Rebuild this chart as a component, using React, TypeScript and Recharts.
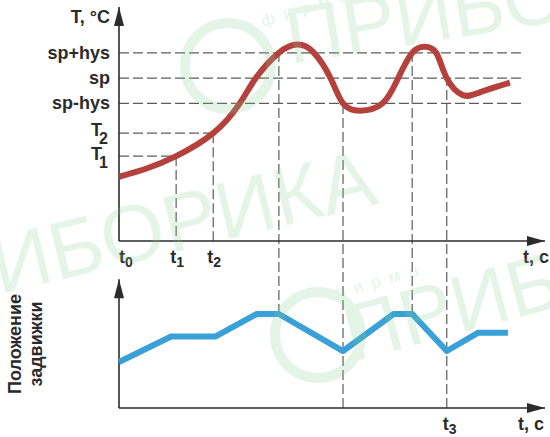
import React from "react";
import { LineChart, Line, XAxis, YAxis, ReferenceLine, ReferenceDot } from "recharts";

const FONT = '"Liberation Sans", Arial, Helvetica, sans-serif';
const INK = "#2b2b2b";
const DASH = "#5c5c5c";
const RED = "#b5413d";
const BLUE = "#39a1d7";
const MARK = "#86cf97";

// temperature levels (sketch units)
const SP = 71;
const HYS = 11;
const T1 = 37;
const T2 = 47;

// axis domains: both panels share one plot area
const T_MIN = -72.8;
const T_MAX = 102;
const P_MIN = 0;
const P_MAX = 426.6;
const P_TOP = 137;

// time marks
const T_END = 85;
const LEVEL_END = 80.6;
const t1 = 11.4;
const t2 = 18.8;
const tHigh1 = 31.9;
const tLow1 = 44.7;
const tHigh2 = 58.5;
const t3 = 65.4;

// temperature curve
const tempTime = [0, 5.5, 11.4, 18.8, 24.1, 27.3, 31.9, 35.7, 38.9, 42.2, 44.7, 48.1, 52.6, 55.7, 58.5, 60.9, 63.3, 65.4, 68.6, 72.0, 78.0];
const tempValue = [28, 31.6, 37, 47, 60, 71, 82, 85.6, 82, 71, 60, 56.8, 60, 71, 82, 84.7, 82, 71, 63.6, 64.8, 69];

// valve position
const powerTime = [0, 10.4, 19.2, 27.5, 31.9, 44.7, 54.8, 58.5, 65.4, 71.6, 77.6];
const powerValue = [49, 76, 76, 100, 100, 60.6, 100, 100, 60.6, 80, 80];

// tick labels
const tempTicks = [T1, T2, SP - HYS, SP, SP + HYS, T_MAX];
const tempLabels = ["T_1", "T_2", "sp-hys", "sp", "sp+hys", "T, °C"];
const tempDy = [4, 3, 6, 6, 6, 16];
const powerTicks = [0, 100, P_TOP];
const powerLabels = ["0 %", "100 %", "P, %"];
const powerDy = [9, 6, 14];
const topTimeTicks = [0, t1, t2, LEVEL_END];
const topTimeLabels = ["t_0", "t_1", "t_2", "t, c"];
const bottomTimeTicks = [t3, 79.6];
const bottomTimeLabels = ["t_3", "t, c"];

const tempData = tempTime.map((t, i) => ({ t, v: tempValue[i] }));
const powerData = powerTime.map((t, i) => ({ t, v: powerValue[i] }));

// same screen height expressed on the P axis
const tempToP = (v: number) => P_MIN + ((v - T_MIN) / (T_MAX - T_MIN)) * (P_MAX - P_MIN);

function Label({ x, y, text, anchor = "end" }: { x: number; y: number; text: string; anchor?: string }) {
  const [main, sub] = text.split("_");
  const cap = main === "T";
  return (
    <text x={x} y={y} textAnchor={anchor} fontFamily={FONT} fontWeight={700} fontSize={18} fill={INK}>
      {main}
      {sub !== undefined && (
        <tspan dx={cap ? -3 : 0} dy={cap ? 8 : 4} fontSize={cap ? 16 : 14}>
          {sub}
        </tspan>
      )}
    </text>
  );
}

const yTick = (ticks: number[], labels: string[], dy: number[]) => (props: any) => {
  const i = ticks.indexOf(props.payload.value);
  if (i < 0) return <g />;
  const cap = labels[i].startsWith("T_");
  return <Label x={props.x - (cap ? 2 : 0)} y={props.y + dy[i]} text={labels[i]} />;
};

const bottomTick = (props: any) => {
  const i = bottomTimeTicks.indexOf(props.payload.value);
  if (i < 0) return <g />;
  const text = bottomTimeLabels[i];
  const sub = text.includes("_");
  return <Label x={props.x + (sub ? 3 : 0)} y={props.y + 22} text={text} anchor={sub ? "middle" : "start"} />;
};

const arrowUp = (p: any) => (
  <path d={`M${p.cx},${p.cy} L${p.cx - 5},${p.cy + 19} L${p.cx + 5},${p.cy + 19} Z`} fill={INK} />
);
const arrowRight = (p: any) => (
  <path d={`M${p.cx},${p.cy} L${p.cx - 18},${p.cy - 5} L${p.cx - 18},${p.cy + 5} Z`} fill={INK} />
);

const dashed = { stroke: DASH, strokeWidth: 1.2, strokeDasharray: "10 4", ifOverflow: "visible" as const };
const axisStyle = { stroke: INK, strokeWidth: 1.6, ifOverflow: "visible" as const };

function Watermark() {
  return (
    <svg width={550} height={437} style={{ position: "absolute", left: 0, top: 0, pointerEvents: "none" }}>
      <g opacity={0.22} fill={MARK} fontFamily={FONT}>
        <text x={380} y={203} textAnchor="end" fontSize={82} transform="rotate(-13.5 380 203)">ПРИБОРИКА</text>
        <text x={290} y={64} fontSize={80} transform="rotate(-9 290 64)">ПРИБОРИКА</text>
        <text x={352} y={362} fontSize={80} transform="rotate(-15 352 362)">ПРИБОРИКА</text>
        <text x={263} y={27} fontSize={17} letterSpacing={9} transform="rotate(-17 263 27)">фирма</text>
        <text x={333} y={300} fontSize={17} letterSpacing={9} transform="rotate(-16 333 300)">фирма</text>
        <circle cx={228} cy={66} r={43} fill="none" stroke={MARK} strokeWidth={10} />
        <circle cx={318} cy={335} r={43} fill="none" stroke={MARK} strokeWidth={10} />
      </g>
    </svg>
  );
}

export default function App() {
  return (
    <div style={{ position: "absolute", left: 0, top: 0, width: 550, height: 437, background: "#fff" }}>
      <LineChart width={550} height={437} margin={{ top: 7, right: 5, bottom: 0, left: 0 }}>
        <XAxis
          type="number"
          dataKey="t"
          domain={[0, T_END]}
          ticks={bottomTimeTicks}
          interval={0}
          height={29}
          axisLine={{ stroke: INK, strokeWidth: 1.6 }}
          tickLine={false}
          tickSize={0}
          tickMargin={0}
          tick={bottomTick}
        />
        <YAxis
          yAxisId="P"
          type="number"
          domain={[P_MIN, P_MAX]}
          ticks={powerTicks}
          interval={0}
          width={0}
          axisLine={false}
          tickLine={false}
          tickSize={0}
          tickMargin={9}
          tick={yTick(powerTicks, powerLabels, powerDy)}
        />
        <YAxis
          yAxisId="T"
          type="number"
          domain={[T_MIN, T_MAX]}
          ticks={tempTicks}
          interval={0}
          width={119}
          axisLine={false}
          tickLine={false}
          tickSize={0}
          tickMargin={9}
          tick={yTick(tempTicks, tempLabels, tempDy)}
        />

        {/* level lines */}
        {[SP + HYS, SP, SP - HYS].map((lv) => (
          <ReferenceLine key={`lv${lv}`} yAxisId="T" segment={[{ x: 0, y: lv }, { x: LEVEL_END, y: lv }]} {...dashed} />
        ))}
        <ReferenceLine yAxisId="T" segment={[{ x: 0, y: T2 }, { x: t2, y: T2 }]} {...dashed} />
        <ReferenceLine yAxisId="T" segment={[{ x: 0, y: T1 }, { x: t1, y: T1 }]} {...dashed} />
        <ReferenceLine yAxisId="T" segment={[{ x: t1, y: T1 }, { x: t1, y: 0 }]} {...dashed} />
        <ReferenceLine yAxisId="T" segment={[{ x: t2, y: T2 }, { x: t2, y: 0 }]} {...dashed} />

        {/* switching instants down into the valve panel */}
        <ReferenceLine yAxisId="P" segment={[{ x: tHigh1, y: 100 }, { x: tHigh1, y: tempToP(SP + HYS) }]} {...dashed} />
        <ReferenceLine yAxisId="P" segment={[{ x: tLow1, y: 0 }, { x: tLow1, y: tempToP(SP - HYS) }]} {...dashed} />
        <ReferenceLine yAxisId="P" segment={[{ x: tHigh2, y: 100 }, { x: tHigh2, y: tempToP(SP + HYS) }]} {...dashed} />
        <ReferenceLine yAxisId="P" segment={[{ x: t3, y: 0 }, { x: t3, y: tempToP(SP) }]} {...dashed} />

        {/* axes of both panels */}
        <ReferenceLine yAxisId="T" segment={[{ x: 0, y: 0 }, { x: 0, y: T_MAX }]} {...axisStyle} />
        <ReferenceLine yAxisId="T" segment={[{ x: 0, y: 0 }, { x: T_END, y: 0 }]} {...axisStyle} />
        <ReferenceLine yAxisId="P" segment={[{ x: 0, y: 0 }, { x: 0, y: P_TOP }]} {...axisStyle} />
        <ReferenceDot yAxisId="T" x={0} y={T_MAX} r={0} ifOverflow="visible" shape={arrowUp} />
        <ReferenceDot yAxisId="T" x={T_END} y={0} r={0} ifOverflow="visible" shape={arrowRight} />
        <ReferenceDot yAxisId="P" x={0} y={P_TOP} r={0} ifOverflow="visible" shape={arrowUp} />
        <ReferenceDot yAxisId="P" x={T_END} y={0} r={0} ifOverflow="visible" shape={arrowRight} />

        {topTimeTicks.map((t, i) => (
          <ReferenceDot
            key={`tt${i}`}
            yAxisId="T"
            x={t}
            y={0}
            r={0}
            ifOverflow="visible"
            shape={(p: any) => {
              const text = topTimeLabels[i];
              const mid = text.includes("_") && t > 0;
              return <Label x={p.cx + (mid ? 1 : 0)} y={p.cy + 22} text={text} anchor={mid ? "middle" : "start"} />;
            }}
          />
        ))}

        <Line
          yAxisId="T"
          data={tempData}
          dataKey="v"
          type="natural"
          stroke={RED}
          strokeWidth={6}
          dot={false}
          isAnimationActive={false}
        />
        <Line
          yAxisId="P"
          data={powerData}
          dataKey="v"
          type="linear"
          stroke={BLUE}
          strokeWidth={6}
          strokeLinejoin="round"
          dot={false}
          isAnimationActive={false}
        />
      </LineChart>

      <svg width={550} height={437} style={{ position: "absolute", left: 0, top: 0, pointerEvents: "none" }}>
        <g fontFamily={FONT} fontWeight={700} fontSize={18} fill={INK} textAnchor="middle">
          <text transform="translate(21 344) rotate(-90)">Положение</text>
          <text transform="translate(42 344) rotate(-90)">задвижки</text>
        </g>
      </svg>
      <Watermark />
    </div>
  );
}
